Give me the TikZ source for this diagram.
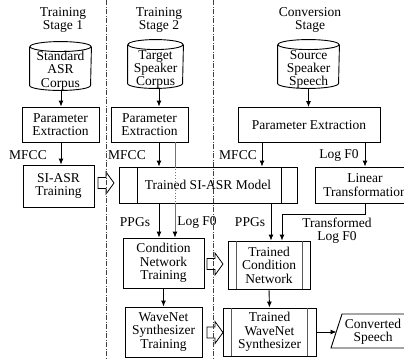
\documentclass[tikz,border=0pt]{standalone}
\usepackage{fontspec}
\setmainfont{Liberation Serif}
\usetikzlibrary{arrows.meta,calc}
\newcommand\blockarrow[2]{\draw[fill=white, line width=0.8pt] (#1,#2-5.5) -- ++(8,0) -- ++(0,-5.5) -- ++(8,11) -- ++(-8,11) -- ++(0,-5.5) -- ++(-8,0) -- cycle;}
\newcommand\cylbody[5]{%
  \node[inner sep=0pt, minimum width=#4pt, minimum height=#5pt] (#1) at (#2,#3) {};
  \draw ([yshift=-5pt]#1.north west) -- ([yshift=5pt]#1.south west)
        arc[start angle=180, end angle=360, x radius=#4pt/2, y radius=5pt]
        -- ([yshift=-5pt]#1.north east);
  \draw ([yshift=-5pt]#1.north) ellipse[x radius=#4pt/2, y radius=5pt];}
\begin{document}
\begin{tikzpicture}[x=1pt,y=-1pt,
  font=\fontsize{13.5}{13.4}\selectfont,
  line width=0.9pt,
  box/.style={draw, inner sep=0pt, align=center},
  lbl/.style={inner sep=0pt, align=center},
  flow/.style={-{Latex[length=6pt,width=5pt]}},
  sepline/.style={draw=black!75, line width=0.8pt, dash pattern=on 5pt off 1.5pt on 1pt off 1.5pt},
  innerl/.style={draw=black!65}]
\useasboundingbox (0,0) rectangle (404,360);

% headers
\node[lbl] (h1) at (63,20) {Training\\Stage 1};
\node[lbl] (h2) at (159,20) {Training\\Stage 2};
\node[lbl] (h3) at (310,20) {Conversion\\Stage};

% cylinders
\cylbody{c1}{60.5}{66}{61}{48}
\node[lbl] (c1t) at (60.5,70.5) {Standard\\ASR\\Corpus};
\cylbody{c2}{155.5}{64}{55}{48}
\node[lbl] (c2t) at (155.5,69.5) {Target\\Speaker\\Corpus};
\cylbody{c3}{308.5}{64}{61}{48}
\node[lbl] (c3t) at (308.5,69.5) {Source\\Speaker\\Speech};

% x positions
\coordinate (xa) at (61,0);
\coordinate (xb) at (159,0);
\coordinate (xc) at (175,0);
\coordinate (xd) at (262,0);
\coordinate (xe) at (365,0);
\coordinate (xf) at (271,0);
\coordinate (tb) at (282,214);

% parameter extraction
\node[box, minimum width=77pt, minimum height=35pt] (p1) at (60.5,124.5) {Parameter\\Extraction};
\node[box, minimum width=77pt, minimum height=35pt] (p2) at (149.5,124.5) {Parameter\\Extraction};
\node[box, minimum width=142pt, minimum height=35pt] (p3) at (309,125) {Parameter Extraction};

\draw[flow] (xa |- c1.south) -- (xa |- p1.north);
\draw[flow] (xb |- c2.south) -- (xb |- p2.north);
\draw[flow] (c3.south) -- (c3.south |- p3.north);

% stage 1
\node[box, minimum width=71pt, minimum height=42pt] (sat) at (58.5,186) {SI-ASR\\Training};
\draw[flow] (xa |- p1.south) -- (xa |- sat.north);
\node[lbl] (m1) at (28,155) {MFCC};

% SI-ASR model
\node[box, minimum width=178pt, minimum height=36pt] (sim) at (208,185) {Trained SI-ASR Model};
\draw ([xshift=19pt]sim.north west) -- ([xshift=19pt]sim.south west);
\draw ([xshift=-16pt]sim.north east) -- ([xshift=-16pt]sim.south east);

% linear transformation
\node[box, minimum width=100pt, minimum height=36pt] (lt) at (365,185) {Linear\\Transformation};

% stage 2 boxes
\node[box, minimum width=81pt, minimum height=50pt] (cnt) at (163.5,263) {Condition\\Network\\Training};
\node[box, minimum width=77pt, minimum height=50pt] (wst) at (163.5,332) {WaveNet\\Synthesizer\\Training};
\draw[flow] (cnt.south) -- (wst.north);

% conversion boxes
\node[box, minimum width=82pt, minimum height=48pt] (tcn) at (269,265) {Trained\\Condition\\Network};
\draw[innerl] ([xshift=8.5pt]tcn.north west) -- ([xshift=8.5pt]tcn.south west);
\draw[innerl] ([xshift=-8.5pt]tcn.north east) -- ([xshift=-8.5pt]tcn.south east);
\node[box, minimum width=93pt, minimum height=48pt] (tws) at (269.5,332) {Trained\\WaveNet\\Synthesizer};
\draw[innerl] ([xshift=9pt]tws.north west) -- ([xshift=9pt]tws.south west);
\draw[innerl] ([xshift=-9pt]tws.north east) -- ([xshift=-9pt]tws.south east);
\draw[flow] (tcn.south) -- (tws.north);

% converted speech
\draw (331,348) -- (342,314) -- (420,314) -- (409,348) -- cycle;
\node[lbl] (cs) at (373,331.5) {Converted\\Speech};
\coordinate (csin) at (336.5,332);
\draw[flow] (tws.east |- csin) -- (csin);

% stage 2 flows
\draw[flow] (xb |- p2.south) -- (xb |- sim.north);
\node[lbl] (m2) at (127,155) {MFCC};
\draw[draw=black!55] (xc |- p2.south) -- (xc |- sim.north);
\draw[draw=black!55, dotted] (xc |- sim.north) -- (xc |- sim.south);
\draw[draw=black!55, -{Latex[length=6pt,width=5pt,color=black]}] (xc |- sim.south) -- (xc |- cnt.north);
\draw[flow] (xb |- sim.south) -- (xb |- cnt.north);
\node[lbl] (pp1) at (135,222) {PPGs};
\node[lbl] (lf1) at (197,222) {Log F0};

% conversion flows
\draw[flow] (xd |- p3.south) -- (xd |- sim.north);
\node[lbl] (m3) at (238,155) {MFCC};
\draw[flow] (xe |- p3.south) -- (xe |- lt.north);
\node[lbl] (lf2) at (339,155) {Log F0};
\draw[flow] (xf |- sim.south) -- (xf |- tcn.north);
\node[lbl] (pp2) at (250,222) {PPGs};
\draw[flow] (lt.south) |- (tb) -- (tb |- tcn.north);
\node[lbl] (tlf) at (337,230.5) {Transformed\\Log F0};

% block arrows
\blockarrow{98}{183}
\blockarrow{207}{264}
\blockarrow{207}{332.5}

% separators
\draw[sepline] (106,0) -- (106,360);
\draw[sepline] (213,0) -- (213,360);
\end{tikzpicture}
\end{document}
